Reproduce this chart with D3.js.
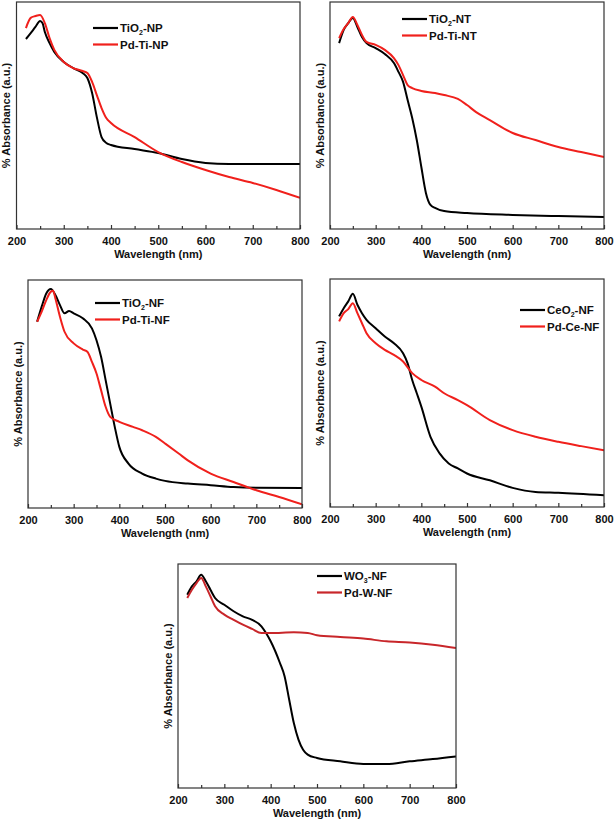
<!DOCTYPE html>
<html>
<head>
<meta charset="utf-8">
<script src="https://cdn.jsdelivr.net/npm/d3@7"></script>
<style>
  html, body { margin: 0; padding: 0; background: #fff; }
  svg { display: block; font-family: "Liberation Sans", Arial, sans-serif; font-weight: bold; }
</style>
</head>
<body>
<svg id="chart" width="614" height="822"></svg>
<script>
// ---------- DATA (wavelength in nm, absorbance in arbitrary units 0-100) ----------
const xTicks = [200, 300, 400, 500, 600, 700, 800];
const xMinorTicks = [250, 350, 450, 550, 650, 750];

// Panel 1: TiO2-NP / Pd-Ti-NP
const p1BlackWl  = [220,230,240,250,255,260,270,280,300,320,340,350,360,370,380,390,400,450,500,550,600,650,700,800];
const p1BlackAbs = [83.7,86.3,89.0,91.6,90.7,86.8,81.9,78.0,73.6,70.9,68.7,66.5,59.9,49.3,40.5,37.9,37.0,35.2,33.5,30.8,29.1,28.6,28.6,28.6];
const p1RedWl    = [220,230,240,250,260,270,280,300,320,340,350,360,370,380,390,400,450,500,550,600,650,700,750,800];
const p1RedAbs   = [88.5,93.0,93.8,94.3,90.7,84.1,78.9,73.6,70.9,69.6,68.7,64.8,59.0,53.3,48.9,46.7,40.5,33.9,29.5,26.0,22.9,20.3,17.2,13.7];

// Panel 2: TiO2-NT / Pd-Ti-NT
const p2BlackWl  = [220,230,240,250,260,270,280,300,320,340,350,360,370,380,390,400,410,420,430,450,500,600,700,800];
const p2BlackAbs = [81.9,87.7,90.7,93.0,89.0,84.6,81.9,79.7,77.1,73.1,69.2,64.8,56.8,48.9,39.2,27.3,15.9,10.6,9.3,7.9,7.0,6.2,5.7,5.3];
const p2RedWl    = [220,230,240,250,260,270,280,300,320,340,350,360,370,380,400,430,450,480,500,520,550,600,650,700,750,800];
const p2RedAbs   = [84.1,88.1,90.7,93.4,89.9,85.5,82.4,81.1,78.9,75.3,72.2,67.8,63.4,62.1,60.8,59.9,59.0,57.3,54.6,51.5,48.0,42.3,39.2,36.1,33.9,31.7];

// Panel 3: TiO2-NF / Pd-Ti-NF
const p3BlackWl  = [220,230,240,250,260,270,280,290,300,320,340,350,360,370,380,390,400,420,450,480,500,550,600,650,700,800];
const p3BlackAbs = [81.7,88.3,94.1,96.0,93.4,89.0,85.4,86.4,85.4,83.2,78.8,73.6,66.3,56.1,45.8,35.6,26.8,19.5,15.1,12.9,11.9,10.7,10.0,9.2,8.9,8.8];
const p3RedWl    = [220,230,240,250,255,260,270,280,300,320,330,340,350,360,370,380,400,430,450,480,500,530,550,600,650,700,750,800];
const p3RedAbs   = [81.7,86.1,91.2,94.9,95.3,91.9,83.9,77.3,72.2,69.5,68.5,64.1,59.0,51.7,44.4,40.0,37.8,35.6,34.1,31.2,28.3,23.9,20.9,15.1,11.4,7.8,4.8,1.6];

// Panel 4: CeO2-NF / Pd-Ce-NF
const p4BlackWl  = [220,230,240,250,260,270,280,300,320,340,360,370,380,390,400,420,440,460,480,500,550,600,650,700,800];
const p4BlackAbs = [83.6,87.2,90.2,93.5,88.7,85.0,82.1,78.4,74.8,71.8,67.4,63.0,55.7,49.9,44.0,30.8,23.5,19.1,16.9,14.7,11.7,8.4,6.6,6.2,5.1];
const p4RedWl    = [220,230,240,250,260,270,280,300,320,340,360,380,400,430,450,480,500,550,600,650,700,750,800];
const p4RedAbs   = [81.4,85.0,86.8,89.4,85.0,80.6,76.2,71.8,68.9,66.7,63.8,58.7,55.7,52.8,49.9,46.9,44.7,38.1,33.7,30.8,28.6,26.7,24.9];

// Panel 5: WO3-NF / Pd-W-NF
const p5BlackWl  = [220,230,240,250,260,270,280,300,320,340,360,380,390,400,420,430,440,450,460,470,480,500,550,600,650,700,750,800];
const p5BlackAbs = [86.3,90.0,92.3,95.2,92.3,88.5,84.8,81.8,78.9,76.6,75.1,72.2,69.2,65.5,55.8,49.9,39.4,29.0,21.6,17.1,14.9,13.4,11.9,10.7,10.7,11.9,12.9,14.1];
const p5RedWl    = [220,230,240,250,260,270,280,300,320,340,360,380,400,450,480,500,550,600,650,700,750,800];
const p5RedAbs   = [84.8,88.5,91.5,93.8,90.0,85.6,81.1,77.4,75.1,72.9,71.0,69.2,69.2,69.5,69.2,68.2,67.4,66.7,65.5,65.0,64.0,62.5];

// Legend labels: [prefix, subscript, suffix]
const p1Labels = [["TiO","2","-NP"], ["Pd-Ti-NP","",""]];
const p2Labels = [["TiO","2","-NT"], ["Pd-Ti-NT","",""]];
const p3Labels = [["TiO","2","-NF"], ["Pd-Ti-NF","",""]];
const p4Labels = [["CeO","2","-NF"], ["Pd-Ce-NF","",""]];
const p5Labels = [["WO","3","-NF"], ["Pd-W-NF","",""]];

const xTitle = "Wavelength (nm)";
const yTitle = "% Absorbance (a.u.)";

// ---------- LAYOUT ----------
const panels = [
  { frame: [16.5, 2, 300, 229],   legend: [93, 28],   redColor: "#f0201c",
    series: [[p1BlackWl, p1BlackAbs], [p1RedWl, p1RedAbs]], labels: p1Labels },
  { frame: [330, 2, 604, 229],    legend: [402, 19],  redColor: "#f0201c",
    series: [[p2BlackWl, p2BlackAbs], [p2RedWl, p2RedAbs]], labels: p2Labels },
  { frame: [28, 280, 302, 508],   legend: [95, 303],  redColor: "#f0201c",
    series: [[p3BlackWl, p3BlackAbs], [p3RedWl, p3RedAbs]], labels: p3Labels },
  { frame: [330, 279, 604, 507],  legend: [520, 310], redColor: "#f0201c",
    series: [[p4BlackWl, p4BlackAbs], [p4RedWl, p4RedAbs]], labels: p4Labels },
  { frame: [178, 564, 456, 788],  legend: [317, 576], redColor: "#c8262a",
    series: [[p5BlackWl, p5BlackAbs], [p5RedWl, p5RedAbs]], labels: p5Labels }
];

const svg = d3.select("#chart");

panels.forEach(p => {
  const [x0, y0, x1, y1] = p.frame;
  const x = d3.scaleLinear().domain([200, 800]).range([x0, x1]);
  const y = d3.scaleLinear().domain([0, 100]).range([y1, y0]);
  const g = svg.append("g");

  // clip
  const clipId = "clip" + Math.round(x0) + "_" + Math.round(y0);
  svg.append("clipPath").attr("id", clipId)
    .append("rect").attr("x", x0).attr("y", y0).attr("width", x1 - x0).attr("height", y1 - y0);

  // lines
  const colors = ["#000000", p.redColor];
  const line = d3.line().x(d => x(d[0])).y(d => y(d[1])).curve(d3.curveMonotoneX);
  const gl = g.append("g").attr("clip-path", `url(#${clipId})`);
  // draw red first? Reference draws black under red in most panels
  [0, 1].forEach(i => {
    const [wl, ab] = p.series[i];
    const pts = wl.map((w, k) => [w, ab[k]]);
    gl.append("path").datum(pts)
      .attr("d", line)
      .attr("fill", "none")
      .attr("stroke", colors[i])
      .attr("stroke-width", 2)
      .attr("stroke-linejoin", "round");
  });

  // frame
  g.append("rect").attr("x", x0).attr("y", y0).attr("width", x1 - x0).attr("height", y1 - y0)
    .attr("fill", "none").attr("stroke", "#333").attr("stroke-width", 1.2);

  // x axis (inward ticks)
  const axis = d3.axisBottom(x).tickValues(xTicks).tickSize(-4).tickPadding(8).tickFormat(d3.format("d"));
  const ga = g.append("g").attr("transform", `translate(0,${y1})`).call(axis);
  ga.select(".domain").remove();
  ga.selectAll(".tick line").attr("stroke", "#333").attr("stroke-width", 1.2);
  ga.selectAll(".tick text").attr("font-size", 11).attr("font-weight", "bold")
    .attr("font-family", '"Liberation Sans", Arial, sans-serif').attr("fill", "#111");
  const minor = d3.axisBottom(x).tickValues(xMinorTicks).tickSize(-3).tickFormat("");
  const gm = g.append("g").attr("transform", `translate(0,${y1})`).call(minor);
  gm.select(".domain").remove();
  gm.selectAll(".tick line").attr("stroke", "#333").attr("stroke-width", 1.2);

  // axis titles
  g.append("text").attr("x", (x0 + x1) / 2).attr("y", y1 + 29)
    .attr("text-anchor", "middle").attr("font-size", 11).attr("fill", "#111").text(xTitle);
  g.append("text")
    .attr("transform", `translate(${x0 - 10.5},${(y0 + y1) / 2}) rotate(-90)`)
    .attr("text-anchor", "middle").attr("dominant-baseline", "central")
    .attr("font-size", 11).attr("fill", "#111").text(yTitle);

  // legend
  const [lx, ly] = p.legend;
  p.labels.forEach((lab, i) => {
    const yy = ly + i * 16.5;
    g.append("line").attr("x1", lx).attr("x2", lx + 25).attr("y1", yy).attr("y2", yy)
      .attr("stroke", colors[i]).attr("stroke-width", 2.2);
    const t = g.append("text").attr("x", lx + 27).attr("y", yy + 4)
      .attr("font-size", 11.5).attr("fill", "#111");
    t.append("tspan").text(lab[0]);
    if (lab[1]) {
      t.append("tspan").attr("font-size", 7).attr("dy", 3).text(lab[1]);
      t.append("tspan").attr("dy", -3).text(lab[2]);
    }
  });
});
</script>
</body>
</html>
